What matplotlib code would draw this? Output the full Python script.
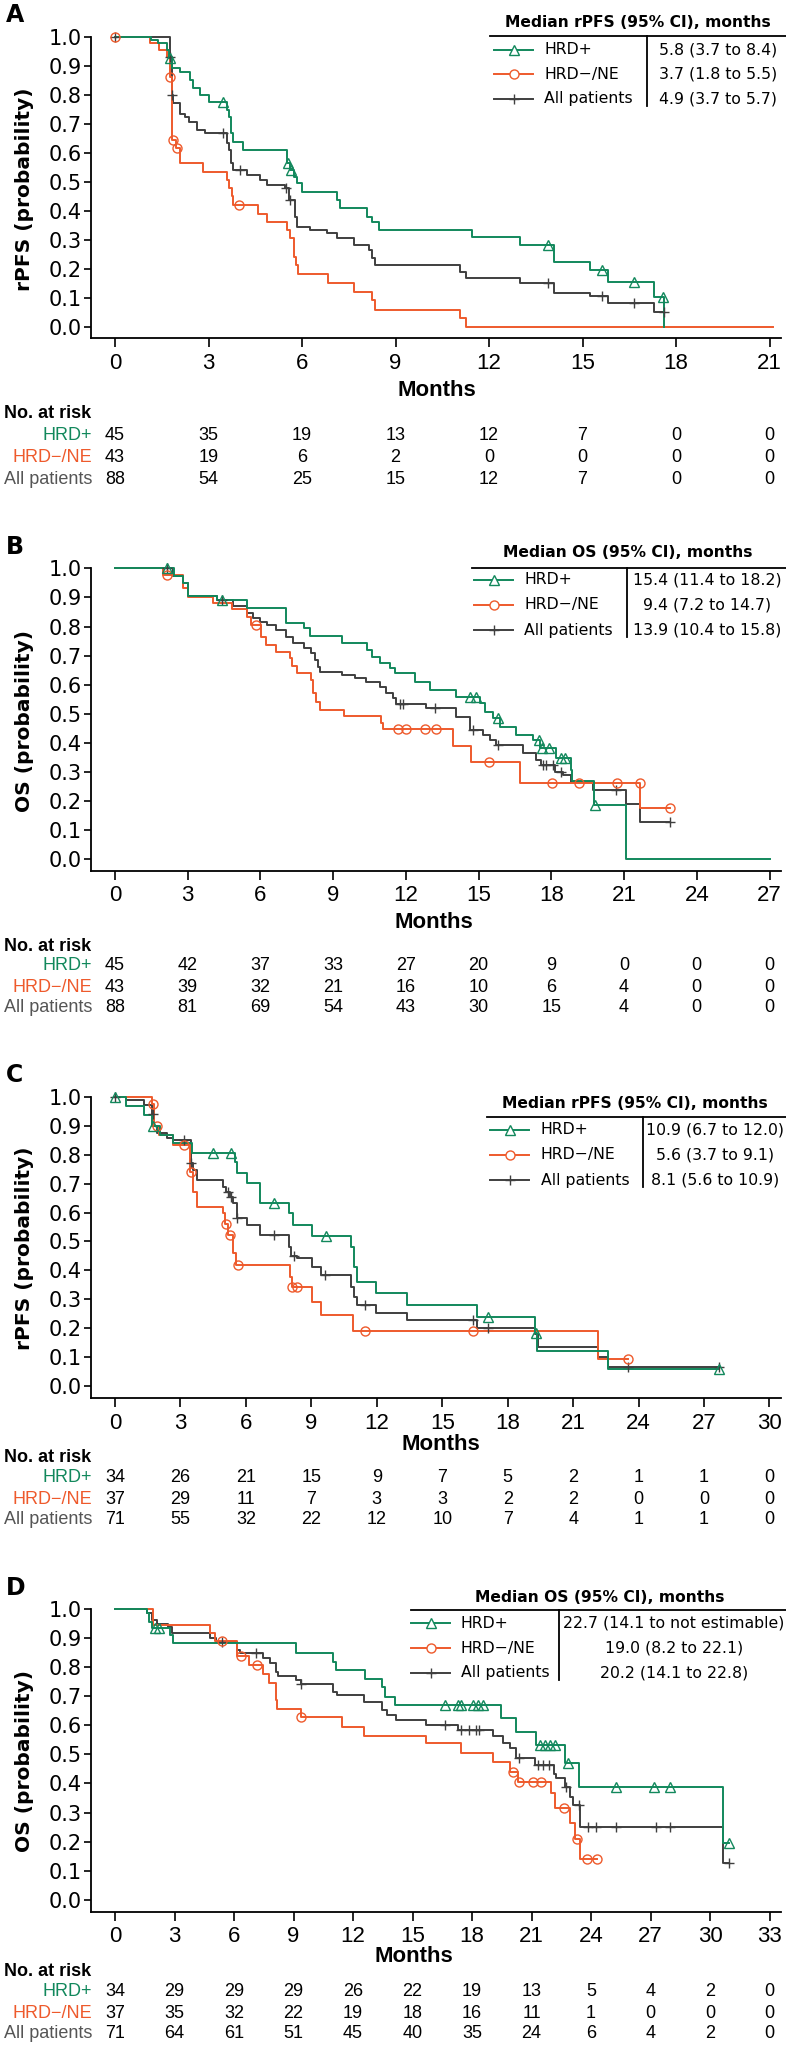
import numpy as np
import matplotlib
matplotlib.use("Agg")
import matplotlib.pyplot as plt
from matplotlib.lines import Line2D

W, H = 786, 2045

GREEN = "#12885C"
RED = "#EE5A2C"
GRAY = "#3F3F3F"
LABEL_GRAY = "#555555"
SANS = "Liberation Sans"

groups = ["HRD+", "HRD\u2212/NE", "All patients"]

# ---------------- Panel A (rPFS) ----------------
a_hrdp_t = [0, 1.15, 1.37, 1.66, 1.73, 1.82, 2.09, 2.41, 2.49, 2.73, 3.00, 3.59, 3.67, 3.72, 3.80, 4.12,
            5.51, 5.60, 5.73, 5.84, 6.00, 7.12, 7.23, 8.08, 8.24, 8.46, 11.45, 13.0, 14.07, 15.25, 15.81, 17.29, 17.63]
a_hrdp_s = [1.0, 0.989, 0.977, 0.954, 0.925, 0.891, 0.879, 0.851, 0.822, 0.799, 0.776, 0.747, 0.724, 0.667, 0.638, 0.610,
            0.564, 0.540, 0.518, 0.495, 0.466, 0.437, 0.409, 0.380, 0.363, 0.334, 0.311, 0.282, 0.225, 0.196, 0.156, 0.104, 0.0]
a_hrdp_c = [1.77, 3.48, 5.54, 5.64, 13.9, 15.64, 16.65, 17.57]

a_hrdn_t = [0, 1.12, 1.42, 1.66, 1.75, 1.84, 1.97, 2.09, 2.82, 3.59, 3.67, 3.75, 3.80, 4.60, 4.87, 5.51, 5.60,
            5.73, 5.81, 5.87, 6.85, 7.66, 8.24, 8.35, 11.08, 11.27]
a_hrdn_s = [1.0, 0.977, 0.953, 0.930, 0.860, 0.645, 0.615, 0.564, 0.535, 0.506, 0.478, 0.450, 0.420, 0.390, 0.363,
            0.334, 0.305, 0.242, 0.213, 0.183, 0.152, 0.122, 0.093, 0.060, 0.030, 0.0]
a_hrdn_c = [0, 1.76, 1.86, 1.99, 3.99]

a_all_t = [0, 1.77, 1.82, 1.86, 2.09, 2.25, 2.36, 2.62, 2.89, 3.59, 3.67, 3.72, 3.80, 4.23, 4.66, 4.87, 5.46, 5.57,
           5.78, 5.84, 6.26, 6.80, 7.12, 7.66, 8.14, 8.24, 8.35, 11.08, 11.27, 13.0, 14.07, 15.25, 15.81, 17.29]
a_all_s = [1.0, 0.93, 0.80, 0.77, 0.735, 0.724, 0.707, 0.68, 0.667, 0.633, 0.61, 0.564, 0.54, 0.523, 0.506, 0.489,
           0.478, 0.437, 0.38, 0.345, 0.334, 0.323, 0.305, 0.282, 0.265, 0.236, 0.213, 0.19, 0.17, 0.15, 0.118,
           0.107, 0.081, 0.053]
a_all_c = [0, 1.78, 1.84, 3.48, 4.01, 5.50, 5.62, 13.9, 15.64, 16.65, 17.6]
a_ends = [17.63, 21.1, 17.62]

a_risk = [[45, 35, 19, 13, 12, 7, 0, 0],
          [43, 19, 6, 2, 0, 0, 0, 0],
          [88, 54, 25, 15, 12, 7, 0, 0]]
a_medians = ["5.8 (3.7 to 8.4)", "3.7 (1.8 to 5.5)", "4.9 (3.7 to 5.7)"]

# ---------------- Panel B (OS) ----------------
b_hrdp_t = [0, 2.43, 2.79, 3.02, 4.19, 5.43, 7.07, 7.79, 8.04, 9.37, 10.41, 10.62, 10.92, 11.33, 11.54, 12.37,
            13.01, 14.08, 15.05, 15.25, 15.6, 15.87, 16.56, 17.24, 17.52, 18.2, 18.82, 18.86, 19.75, 21.06]
b_hrdp_s = [1.0, 0.974, 0.951, 0.905, 0.891, 0.862, 0.813, 0.794, 0.767, 0.745, 0.719, 0.696, 0.676, 0.656, 0.639,
            0.611, 0.582, 0.559, 0.536, 0.507, 0.485, 0.456, 0.427, 0.41, 0.381, 0.347, 0.307, 0.269, 0.187, 0.0]
b_hrdp_c = [2.13, 4.42, 14.63, 14.88, 15.8, 17.49, 17.63, 17.9, 18.41, 18.55, 19.82]

b_hrdn_t = [0, 1.99, 2.79, 3.02, 4.05, 4.81, 5.43, 5.63, 6.04, 6.21, 6.66, 7.21, 7.32, 7.49, 8.10, 8.17, 8.31,
            8.45, 9.45, 10.96, 11.06, 13.95, 14.7, 16.7, 21.67]
b_hrdn_s = [1.0, 0.977, 0.931, 0.903, 0.88, 0.859, 0.834, 0.805, 0.765, 0.737, 0.714, 0.691, 0.664, 0.639, 0.616,
            0.57, 0.542, 0.513, 0.493, 0.47, 0.447, 0.389, 0.336, 0.263, 0.175]
b_hrdn_c = [2.16, 5.81, 11.67, 12.02, 12.78, 13.26, 15.42, 18.04, 19.14, 20.72, 21.64, 22.88]

b_all_t = [0, 2.40, 2.79, 3.02, 4.19, 4.88, 5.43, 5.70, 5.98, 6.25, 6.66, 7.07, 7.35, 7.79, 8.10, 8.24, 8.38,
           8.45, 9.37, 9.89, 10.37, 10.92, 11.19, 11.47, 11.6, 12.85, 14.08, 14.63, 15.18, 15.46, 15.73, 16.83,
           17.38, 17.59, 18.14, 18.48, 18.82, 19.72, 21.09, 21.67]
b_all_s = [1.0, 0.974, 0.95, 0.905, 0.891, 0.871, 0.845, 0.828, 0.817, 0.805, 0.788, 0.765, 0.742, 0.725, 0.708,
           0.685, 0.662, 0.645, 0.633, 0.622, 0.61, 0.593, 0.573, 0.553, 0.534, 0.519, 0.49, 0.444, 0.427, 0.41,
           0.393, 0.364, 0.341, 0.324, 0.301, 0.29, 0.267, 0.238, 0.192, 0.129]
b_all_c = [2.13, 4.42, 11.75, 11.9, 13.19, 14.77, 15.8, 17.66, 17.79, 18.07, 18.41, 20.68, 22.88]
b_ends = [27.0, 22.88, 22.88]

b_risk = [[45, 42, 37, 33, 27, 20, 9, 0, 0, 0],
          [43, 39, 32, 21, 16, 10, 6, 4, 0, 0],
          [88, 81, 69, 54, 43, 30, 15, 4, 0, 0]]
b_medians = ["15.4 (11.4 to 18.2)", "9.4 (7.2 to 14.7)", "13.9 (10.4 to 15.8)"]

# ---------------- Panel C (rPFS) ----------------
c_hrdp_t = [0, 0.50, 1.34, 1.68, 2.06, 2.67, 3.51, 5.50, 5.60, 6.03, 6.64, 7.98, 8.14, 9.05, 10.84, 10.95,
            11.07, 11.98, 13.39, 16.6, 19.24, 19.35, 22.6]
c_hrdp_s = [1.0, 0.967, 0.936, 0.9, 0.867, 0.84, 0.806, 0.775, 0.737, 0.703, 0.634, 0.597, 0.557, 0.519, 0.482,
            0.413, 0.361, 0.321, 0.281, 0.24, 0.183, 0.122, 0.061]
c_hrdp_c = [0, 1.73, 4.5, 5.3, 7.28, 9.66, 17.1, 19.3, 27.7]

c_hrdn_t = [0, 1.68, 1.79, 2.03, 2.67, 3.44, 3.59, 3.74, 4.96, 5.04, 5.19, 5.42, 5.53, 8.02, 8.1, 9.05, 9.42,
            10.92, 22.14]
c_hrdn_s = [1.0, 0.975, 0.9, 0.867, 0.833, 0.74, 0.672, 0.618, 0.597, 0.56, 0.524, 0.459, 0.418, 0.378, 0.344,
            0.292, 0.246, 0.192, 0.094]
c_hrdn_c = [1.73, 1.94, 3.18, 3.48, 5.07, 5.27, 5.63, 8.13, 8.32, 11.45, 16.41, 23.5]

c_all_t = [0, 0.50, 1.34, 1.68, 1.79, 1.91, 2.37, 2.67, 3.47, 3.56, 3.74, 4.96, 5.11, 5.27, 5.42, 5.57, 6.03,
           6.64, 7.98, 8.09, 8.32, 9.05, 9.42, 10.84, 10.95, 11.07, 11.98, 13.39, 16.6, 19.24, 19.39, 22.14, 22.6]
c_all_s = [1.0, 0.988, 0.97, 0.94, 0.9, 0.873, 0.858, 0.85, 0.77, 0.747, 0.712, 0.689, 0.672, 0.655, 0.633,
           0.58, 0.557, 0.522, 0.482, 0.45, 0.442, 0.413, 0.384, 0.344, 0.309, 0.28, 0.252, 0.229, 0.2, 0.18,
           0.137, 0.102, 0.067]
c_all_c = [0, 1.76, 3.18, 3.49, 5.19, 5.3, 5.6, 7.28, 8.2, 9.62, 11.45, 16.4, 17.1, 23.5, 27.7]
c_ends = [27.7, 23.5, 27.7]

c_risk = [[34, 26, 21, 15, 9, 7, 5, 2, 1, 1, 0],
          [37, 29, 11, 7, 3, 3, 2, 2, 0, 0, 0],
          [71, 55, 32, 22, 12, 10, 7, 4, 1, 1, 0]]
c_medians = ["10.9 (6.7 to 12.0)", "5.6 (3.7 to 9.1)", "8.1 (5.6 to 10.9)"]

# ---------------- Panel D (OS) ----------------
d_hrdp_t = [0, 1.60, 1.73, 1.85, 2.77, 2.91, 9.15, 10.97, 11.12, 12.59, 13.48, 13.60, 14.10, 19.48, 20.20,
            21.24, 22.67, 23.39, 30.64]
d_hrdp_s = [1.0, 0.985, 0.957, 0.933, 0.91, 0.882, 0.85, 0.818, 0.79, 0.758, 0.733, 0.699, 0.67, 0.624, 0.578,
            0.532, 0.469, 0.389, 0.194]
d_hrdp_c = [2.02, 2.23, 16.62, 17.29, 17.46, 18.05, 18.30, 18.56, 21.41, 21.66, 21.91, 22.17, 22.84, 25.24,
            27.2, 27.96, 30.98]

d_hrdn_t = [0, 1.90, 4.79, 5.04, 6.13, 6.77, 7.47, 7.77, 8.11, 8.19, 9.37, 11.45, 12.56, 15.67, 17.46, 19.06,
            19.90, 20.32, 21.99, 22.16, 22.92, 23.17, 23.43]
d_hrdn_s = [1.0, 0.945, 0.916, 0.891, 0.838, 0.807, 0.776, 0.747, 0.687, 0.655, 0.627, 0.595, 0.563, 0.538,
            0.504, 0.475, 0.44, 0.406, 0.366, 0.314, 0.263, 0.208, 0.142]
d_hrdn_c = [5.42, 6.33, 7.14, 9.4, 20.07, 20.37, 21.07, 21.49, 22.62, 23.29, 23.79, 24.29]

d_all_t = [0, 1.60, 1.85, 2.10, 2.69, 2.85, 4.79, 5.09, 6.16, 6.30, 7.47, 7.81, 8.11, 8.23, 9.15, 9.37, 10.97,
           11.17, 12.56, 13.48, 13.69, 14.19, 15.70, 17.29, 19.06, 19.56, 19.90, 20.20, 21.16, 22.12, 22.25,
           22.67, 22.92, 23.09, 23.45, 30.64]
d_all_s = [1.0, 0.986, 0.962, 0.95, 0.937, 0.916, 0.9, 0.887, 0.859, 0.847, 0.83, 0.815, 0.784, 0.769, 0.756,
           0.742, 0.715, 0.704, 0.681, 0.653, 0.636, 0.618, 0.601, 0.584, 0.563, 0.538, 0.521, 0.486, 0.463,
           0.432, 0.418, 0.389, 0.355, 0.326, 0.251, 0.127]
d_all_c = [5.42, 7.1, 9.4, 16.62, 17.46, 17.87, 18.2, 18.37, 20.37, 21.32, 21.57, 21.87, 22.75, 23.42, 23.85,
           24.26, 25.27, 27.28, 27.96, 30.95]
d_ends = [30.98, 24.29, 30.95]

d_risk = [[34, 29, 29, 29, 26, 22, 19, 13, 5, 4, 2, 0],
          [37, 35, 32, 22, 19, 18, 16, 11, 1, 0, 0, 0],
          [71, 64, 61, 51, 45, 40, 35, 24, 6, 4, 2, 0]]
d_medians = ["22.7 (14.1 to not estimable)", "19.0 (8.2 to 22.1)", "20.2 (14.1 to 22.8)"]

# layout of each panel, in pixels of the 786 x 2045 figure
panels = [
    dict(letter="A", ylabel="rPFS (probability)", title="Median rPFS (95% CI), months", xmax=21,
         curves=[(a_hrdp_t, a_hrdp_s, a_hrdp_c), (a_hrdn_t, a_hrdn_s, a_hrdn_c), (a_all_t, a_all_s, a_all_c)],
         ends=a_ends, risk=a_risk, medians=a_medians,
         y1=36.7, y0=327.0, spine=338, letter_y=15, months=(437, 391), norisk=414, rows=[436, 458, 479],
         leg=dict(tx=638, ty=22.7, hy=36, hx=490, rows=[50, 74, 99], sx=494, lx=544, dx=647, dy=106, vx=718)),
    dict(letter="B", ylabel="OS (probability)", title="Median OS (95% CI), months", xmax=27,
         curves=[(b_hrdp_t, b_hrdp_s, b_hrdp_c), (b_hrdn_t, b_hrdn_s, b_hrdn_c), (b_all_t, b_all_s, b_all_c)],
         ends=b_ends, risk=b_risk, medians=b_medians,
         y1=568.3, y0=859.4, spine=870.7, letter_y=547, months=(434, 923), norisk=946.7, rows=[966, 988, 1008],
         leg=dict(tx=628, ty=553, hy=568, hx=472, rows=[580, 605, 630], sx=474, lx=524, dx=627, dy=637, vx=707)),
    dict(letter="C", ylabel="rPFS (probability)", title="Median rPFS (95% CI), months", xmax=30,
         curves=[(c_hrdp_t, c_hrdp_s, c_hrdp_c), (c_hrdn_t, c_hrdn_s, c_hrdn_c), (c_all_t, c_all_s, c_all_c)],
         ends=c_ends, risk=c_risk, medians=c_medians,
         y1=1096.7, y0=1386.2, spine=1398.3, letter_y=1075, months=(441, 1445), norisk=1458,
         rows=[1478, 1500, 1520],
         leg=dict(tx=635, ty=1103, hy=1117, hx=487, rows=[1130, 1155, 1180], sx=490, lx=541, dx=643, dy=1187,
                  vx=715)),
    dict(letter="D", ylabel="OS (probability)", title="Median OS (95% CI), months", xmax=33,
         curves=[(d_hrdp_t, d_hrdp_s, d_hrdp_c), (d_hrdn_t, d_hrdn_s, d_hrdn_c), (d_all_t, d_all_s, d_all_c)],
         ends=d_ends, risk=d_risk, medians=d_medians,
         y1=1609, y0=1899.8, spine=1911.7, letter_y=1588, months=(414, 1957), norisk=1972,
         rows=[1992, 2013, 2034],
         leg=dict(tx=600, ty=1597, hy=1610, hx=411, rows=[1623, 1648, 1673], sx=411, lx=461, dx=559, dy=1680,
                  vx=674)),
]

colors = [GREEN, RED, GRAY]
markers = ["^", "o", "+"]
msizes = [6.5, 6.5, 7.5]
label_colors = [GREEN, RED, LABEL_GRAY]

fig = plt.figure(figsize=(W / 100, H / 100), dpi=100)


def ftext(x, y, s, **kw):
    return fig.text(x / W, 1 - y / H, s, **kw)


def fline(xs, ys, **kw):
    fig.add_artist(Line2D([x / W for x in xs], [1 - y / H for y in ys], transform=fig.transFigure, **kw))


X0, XEND, LEFT, RIGHT = 115, 769.5, 90.7, 781

for p in panels:
    ppm = (XEND - X0) / p["xmax"]
    ax = fig.add_axes([LEFT / W, 1 - p["spine"] / H, (RIGHT - LEFT) / W, (p["spine"] - p["y1"]) / H])
    ax.set_xlim((LEFT - X0) / ppm, (RIGHT - X0) / ppm)
    ax.set_ylim(-(p["spine"] - p["y0"]) / (p["y0"] - p["y1"]), 1.0)
    for side in ["top", "right"]:
        ax.spines[side].set_visible(False)
    for side in ["left", "bottom"]:
        ax.spines[side].set_linewidth(1.3)
    yt = np.round(np.arange(0, 1.01, 0.1), 1)
    ax.set_yticks(yt)
    ax.set_yticklabels([f"{v:.1f}" for v in yt], fontsize=15)
    xt = list(range(0, p["xmax"] + 1, 3))
    ax.set_xticks(xt)
    ax.set_xticklabels([str(v) for v in xt], fontsize=16, family=SANS)
    ax.tick_params(axis="y", direction="out", length=5, width=1.2, pad=1.5)
    ax.tick_params(axis="x", direction="out", length=6.5, width=1.2, pad=4)

    # curves: all patients first, then HRD-/NE, then HRD+
    for i in [2, 1, 0]:
        t, s, cens = p["curves"][i]
        tt = list(t) + [p["ends"][i]]
        ss = list(s) + [s[-1]]
        ax.step(tt, ss, where="post", color=colors[i], lw=1.4, clip_on=False, zorder=3)
        idx = np.searchsorted(t, cens, side="right") - 1
        cy = [s[k] for k in idx]
        ax.plot(cens, cy, ls="none", marker=markers[i], mfc="none", mec=colors[i], ms=msizes[i],
                mew=1.0, clip_on=False, zorder=4)

    # panel letter and y label
    ftext(6, p["letter_y"], p["letter"], ha="left", va="center", fontsize=17, fontweight="bold")
    ftext(25, (p["y1"] + p["y0"]) / 2 + 7, p["ylabel"], rotation=90, ha="center", va="center",
          fontsize=14.5, fontweight="bold")

    # x label and numbers at risk
    ftext(p["months"][0], p["months"][1], "Months", ha="center", va="center", fontsize=16,
          fontweight="bold", family=SANS)
    ftext(4, p["norisk"], "No. at risk", ha="left", va="center", fontsize=13, fontweight="bold", family=SANS)
    for i, row_y in enumerate(p["rows"]):
        ftext(92, row_y, groups[i], ha="right", va="center", fontsize=13, color=label_colors[i], family=SANS)
        for k, n in enumerate(p["risk"][i]):
            ftext(X0 + xt[k] * ppm, row_y, str(n), ha="center", va="center", fontsize=13, family=SANS)

    # median table / legend
    lg = p["leg"]
    ftext(lg["tx"], lg["ty"], p["title"], ha="center", va="center", fontsize=11.2, fontweight="bold")
    fline([lg["hx"], 786], [lg["hy"], lg["hy"]], color="black", lw=1.3)
    fline([lg["dx"], lg["dx"]], [lg["hy"], lg["dy"]], color="black", lw=1.3)
    for i, row_y in enumerate(lg["rows"]):
        fline([lg["sx"], lg["sx"] + 19.5, lg["sx"] + 39], [row_y] * 3, color=colors[i], lw=1.4,
              marker=markers[i], markevery=[1], mfc="white", mec=colors[i], ms=msizes[i], mew=1.0)
        ftext(lg["lx"], row_y, groups[i], ha="left", va="center", fontsize=11.3)
        ftext(lg["vx"], row_y, p["medians"][i], ha="center", va="center", fontsize=11.3)

fig.savefig("out.png", dpi=100)
